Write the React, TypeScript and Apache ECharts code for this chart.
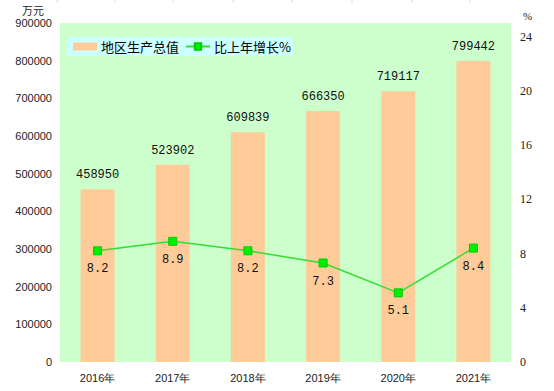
import React, { useEffect, useRef } from "react";
import * as echarts from "echarts";

const categories = ["2016年", "2017年", "2018年", "2019年", "2020年", "2021年"];
const gdpValues = [458950, 523902, 609839, 666350, 719117, 799442];
const growthValues = [8.2, 8.9, 8.2, 7.3, 5.1, 8.4];
const topTickXs = [57, 115, 173, 233, 292, 352, 412, 470];

export default function App() {
  const ref = useRef<HTMLDivElement>(null);
  useEffect(() => {
    const chart = echarts.init(ref.current!, null, { renderer: "svg" });
    const tickFont = { fontFamily: "Liberation Sans", fontSize: 11, color: "#222" };
    chart.setOption({
      animation: false,
      backgroundColor: "#fff",
      grid: {
        left: 60,
        right: 43,
        top: 23,
        bottom: 29,
        show: true,
        backgroundColor: "#CCFFCC",
        borderWidth: 0,
      },
      legend: {
        left: 67,
        top: 37,
        backgroundColor: "#CCFFFF",
        padding: [3, 2, 3, 6],
        itemGap: 6,
        itemWidth: 24,
        itemHeight: 8,
        textStyle: { fontFamily: "Noto Sans CJK SC", fontSize: 13, color: "#000", padding: [0, 0, 0, -1] },
        data: [
          { name: "地区生产总值", icon: "rect" },
          { name: "比上年增长%" },
        ],
      },
      graphic: topTickXs.map((x) => ({
        type: "line",
        shape: { x1: x, y1: 0, x2: x, y2: 3 },
        style: { stroke: "#ddd", lineWidth: 1 },
      })),
      xAxis: {
        type: "category",
        data: categories,
        axisLine: { show: false },
        axisTick: { show: false },
        axisLabel: { ...tickFont, margin: 10 },
      },
      yAxis: [
        {
          type: "value",
          min: 0,
          max: 900000,
          interval: 100000,
          name: "万元",
          nameGap: 8,
          nameTextStyle: { fontFamily: "Noto Sans CJK SC", fontSize: 11, color: "#222", align: "right", padding: [0, 16, 0, 0] },
          axisLine: { show: false },
          axisTick: { show: false },
          splitLine: { show: false },
          axisLabel: { ...tickFont, margin: 8, formatter: (v: number) => String(v) },
        },
        {
          type: "value",
          min: 0,
          max: 25,
          interval: 4,
          name: "%",
          nameGap: 2,
          nameTextStyle: { fontFamily: "Liberation Serif", fontSize: 11, color: "#222", align: "left", padding: [0, 0, 0, 12] },
          axisLine: { show: false },
          axisTick: { show: false },
          splitLine: { show: false },
          axisLabel: {
            fontFamily: "Liberation Serif",
            fontSize: 12,
            color: "#222",
            margin: 9,
            formatter: (v: number) => (v === 25 ? "" : String(v)),
          },
        },
      ],
      series: [
        {
          name: "地区生产总值",
          type: "bar",
          data: gdpValues,
          barWidth: 34,
          itemStyle: { color: "#FFCC99" },
          label: {
            show: true,
            position: "top",
            distance: 8,
            fontFamily: "Liberation Mono",
            fontSize: 12,
            color: "#111",
          },
        },
        {
          name: "比上年增长%",
          type: "line",
          yAxisIndex: 1,
          data: growthValues,
          symbol: "rect",
          symbolSize: 8,
          lineStyle: { color: "#33DD33", width: 1.5 },
          itemStyle: { color: "#00EE00", borderColor: "#00CC00", borderWidth: 1 },
          label: {
            show: true,
            position: "bottom",
            distance: 8,
            fontFamily: "Liberation Mono",
            fontSize: 12,
            color: "#111",
          },
        },
      ],
    });
    return () => chart.dispose();
  }, []);
  return <div ref={ref} style={{ width: 554, height: 391, position: "absolute", left: 0, top: 0 }} />;
}
